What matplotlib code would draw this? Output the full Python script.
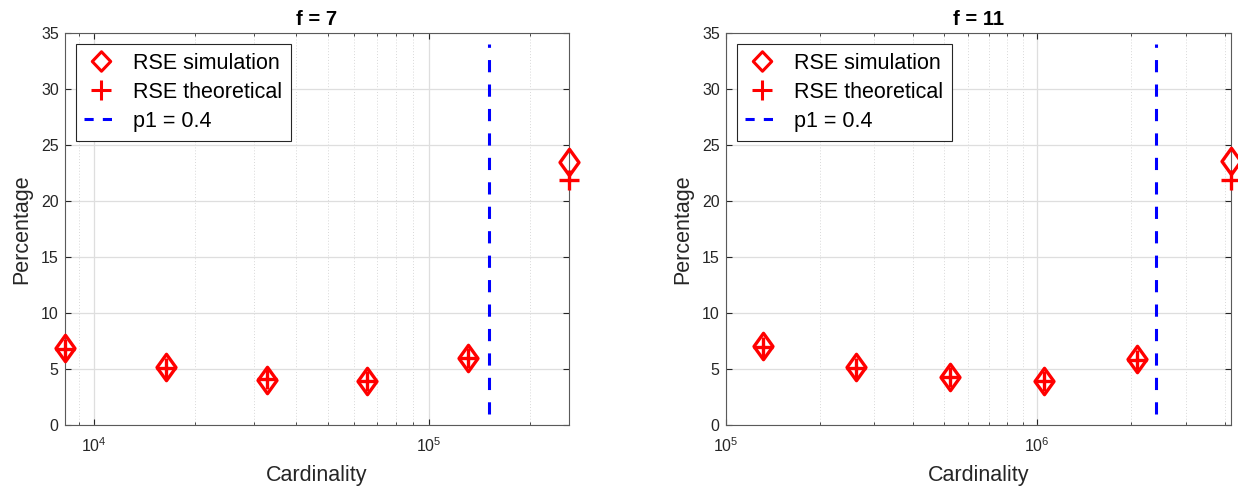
import numpy as np
import matplotlib
matplotlib.use("Agg")
import matplotlib.pyplot as plt
from matplotlib.lines import Line2D
from matplotlib.path import Path
from matplotlib.ticker import LogLocator, NullFormatter

plt.rcParams['font.family'] = ['Liberation Sans', 'DejaVu Sans']

# data
card_f7 = [8192, 16384, 32768, 65536, 131072, 262144]
sim_f7 = [6.86, 5.14, 4.04, 3.89, 6.03, 23.5]
theo_f7 = [6.8, 5.1, 4.1, 3.9, 5.95, 21.9]
p1_f7 = 1.51e5

card_f11 = [131072, 262144, 524288, 1048576, 2097152, 4194304]
sim_f11 = [7.07, 5.14, 4.31, 3.95, 5.88, 23.56]
theo_f11 = [7.0, 5.1, 4.3, 3.95, 5.85, 21.9]
p1_f11 = 2.41e6

p1_span = [1, 34]
yticks = [0, 5, 10, 15, 20, 25, 30, 35]

RED = '#ff0000'
BLUE = '#0000ff'
DARK = '#262626'

# MATLAB style diamond (taller than wide)
diamond = Path([(0, 1), (0.72, 0), (0, -1), (-0.72, 0), (0, 1)],
               [Path.MOVETO, Path.LINETO, Path.LINETO, Path.LINETO, Path.CLOSEPOLY])
diamond_leg = Path([(0, 1), (0.95, 0), (0, -1), (-0.95, 0), (0, 1)],
                   [Path.MOVETO, Path.LINETO, Path.LINETO, Path.LINETO, Path.CLOSEPOLY])


def draw_panel(ax, card, sim, theo, p1, xlim, title):
    ax.plot(card, sim, linestyle='none', marker=diamond, ms=19, mew=2.4,
            mfc='none', mec=RED, clip_on=False, zorder=5)
    ax.plot(card, theo, linestyle='none', marker='+', ms=14, mew=2.4,
            mec=RED, clip_on=False, zorder=5)
    ax.plot([p1, p1], p1_span, color=BLUE, lw=2.2, linestyle=(0, (4, 4)), zorder=4)

    ax.set_xscale('log')
    ax.set_xlim(xlim)
    ax.set_ylim(0, 35)
    ax.set_yticks(yticks)
    ax.xaxis.set_minor_locator(LogLocator(base=10, subs=np.arange(2, 10)))
    ax.xaxis.set_minor_formatter(NullFormatter())

    ax.grid(True, which='major', color='#dedede', lw=0.9, linestyle='-')
    ax.grid(True, which='minor', axis='x', color='#d8d8d8', lw=0.7, linestyle=(0, (1, 2)))
    ax.set_axisbelow(True)

    ax.tick_params(which='both', direction='in', top=True, right=True,
                   colors=DARK, labelcolor=DARK, labelsize=11.5)
    ax.tick_params(which='major', length=4, width=0.8)
    ax.tick_params(which='minor', length=2.5, width=0.6)
    ax.tick_params(axis='x', pad=8)
    ax.tick_params(axis='y', pad=4.5)
    for s in ax.spines.values():
        s.set_color('#5a5a5a')
        s.set_linewidth(0.8)

    ax.set_title(title, fontsize=14.5, fontweight='bold', color='black', pad=6)
    ax.set_xlabel('Cardinality', fontsize=15.5, color=DARK, labelpad=7)
    ax.set_ylabel('Percentage', fontsize=15.5, color=DARK, labelpad=6)

    handles = [
        Line2D([], [], linestyle='none', marker=diamond_leg, ms=14, mew=2.2,
               mfc='none', mec=RED),
        Line2D([], [], linestyle='none', marker='+', ms=14, mew=2.2, mec=RED),
        Line2D([], [], color=BLUE, lw=2.2, linestyle=(0, (3, 3))),
    ]
    leg = ax.legend(handles, ['RSE simulation', 'RSE theoretical', 'p1 = 0.4'],
                    loc='upper left', fontsize=15.5, fancybox=False, framealpha=1,
                    edgecolor=DARK, borderaxespad=0.5, borderpad=0.4,
                    labelspacing=0.38, handlelength=1.55, handletextpad=0.7)
    leg.get_frame().set_linewidth(0.8)


fig = plt.figure(figsize=(12.38, 4.88), dpi=100)
ax1 = fig.add_axes([0.0525, 0.129, 0.407, 0.803])
ax2 = fig.add_axes([0.5864, 0.129, 0.408, 0.803])

draw_panel(ax1, card_f7, sim_f7, theo_f7, p1_f7, (card_f7[0], card_f7[-1]), 'f = 7')
draw_panel(ax2, card_f11, sim_f11, theo_f11, p1_f11, (1e5, card_f11[-1]), 'f = 11')

fig.savefig('out.png', dpi=100)
